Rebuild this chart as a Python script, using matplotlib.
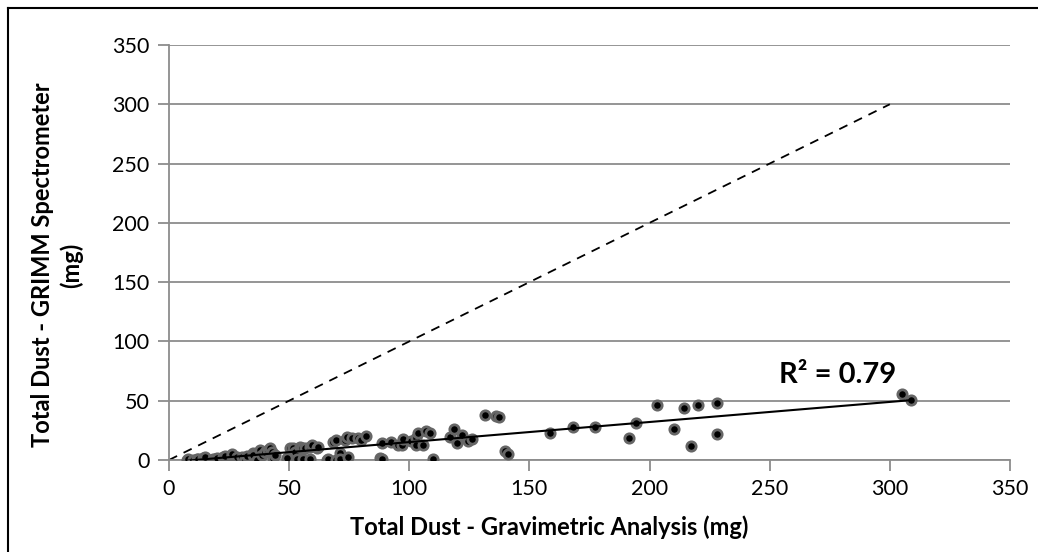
import matplotlib.pyplot as plt
import numpy as np

# Gravimetric (x) vs GRIMM spectrometer (y) total dust, mg
grav_mg = [7.4, 8, 10.1, 11.5, 12.2, 14, 15, 15, 18.4, 19.1, 20, 22.6, 23.3, 26.1, 26.1,
           28.2, 30.2, 31.6, 32.3, 35, 35.1, 36.5, 37.9, 38.6, 39.9, 41.3, 42, 42.7, 43.4, 44.1,
           49, 49, 50.4, 51.8, 52.4, 53.1, 54.5, 55.2, 55.9, 56.6, 58.7, 58.7, 59.4, 61.5, 62.1,
           65.6, 66.3, 68.4, 69.7, 69.7, 71.2, 71.2, 73.2, 74, 74.6, 76, 78.8, 80, 82.2, 87.8,
           88.8, 88.8, 92.2, 95.4, 96.8, 97.5, 100.7, 103, 103.7, 103, 105.9, 107, 108.6, 110,
           117, 118.7, 119.7, 122.1, 124.6, 126.3, 131.5, 136, 137.3, 139.8, 141.2,
           158.5, 168, 177.4, 191.4, 194.3, 203, 210.3, 214.3, 217.2, 220.3, 228.2, 228.2,
           305, 309]
grimm_mg = [0, 0.6, 0, 0.6, 0.6, 1.5, 1.4, 2.3, 0.6, 0.6, 1.5, 2.8, 3.4, 3.4, 5.1,
            2.8, 2.2, 0.6, 3.4, 5.6, 4.2, 0, 8.4, 4.2, 7, 8.4, 9.8, 7, 1.4, 4.2,
            0.6, 1.4, 9.8, 9.8, 7, 0.6, 11.2, 9.8, 0.6, 9.8, 11.2, 0.6, 12.6, 9.8, 11.2,
            0, 0.6, 15.4, 16.9, 0, 5.6, 0.6, 16.9, 19.7, 2.2, 18.3, 18.3, 17, 20.2, 1.4,
            14, 0.8, 15, 12.6, 12.6, 17.7, 16.3, 18.3, 22.5, 12.6, 12.6, 24.5, 22.5, 0.8,
            19.7, 25.9, 14, 21, 16, 17.4, 38, 37.3, 36, 7.6, 4.8,
            23, 28, 28, 18.3, 31.5, 46.4, 25.9, 44, 11.8, 46, 47.8, 21.6,
            55.5, 50.6]
one_to_one = [0, 300]
r2_label = "R² = 0.79"

plt.rcParams["font.family"] = ["Lato", "DejaVu Sans"]

fig = plt.figure(figsize=(10.38, 5.52), dpi=100)
ax = fig.add_axes([0.1628, 0.1667, 0.8102, 0.7518])

ax.scatter(grav_mg, grimm_mg, s=45, color="black", edgecolors="#666666",
           linewidths=2.0, zorder=3)

# linear trendline
slope, intercept = np.polyfit(grav_mg, grimm_mg, 1)
xs = np.array([min(grav_mg), max(grav_mg)])
ax.plot(xs, slope * xs + intercept, color="black", lw=1.5, zorder=4)

# 1:1 line
ax.plot(one_to_one, one_to_one, color="black", lw=1.3, ls=(0, (5, 4)), zorder=2)

ax.text(254, 65, r2_label, fontsize=21, fontweight="bold", ha="left", va="baseline")

ax.set_xlim(0, 350)
ax.set_ylim(0, 350)
ax.set_xticks(range(0, 351, 50))
ax.set_yticks(range(0, 351, 50))
ax.grid(axis="y", color="#8c8c8c", lw=1.3)
ax.set_axisbelow(True)
for s in ["top", "right"]:
    ax.spines[s].set_visible(False)
for s in ["left", "bottom"]:
    ax.spines[s].set_color("#8c8c8c")
    ax.spines[s].set_linewidth(1.3)
ax.tick_params(axis="both", colors="#8c8c8c", length=8, width=1.3,
               labelsize=15.5, labelcolor="black", pad=6)

fig.text(549 / 1038, 1 - 527 / 552, "Total Dust - Gravimetric Analysis (mg)",
         fontsize=17, fontweight="bold", ha="center", va="center")
fig.text(57 / 1038, 1 - 265 / 552, "Total Dust - GRIMM Spectrometer\n(mg)",
         fontsize=17, fontweight="bold", ha="center", va="center",
         rotation=90, multialignment="center", linespacing=1.3)

# outer chart border
fig.add_artist(plt.Line2D([8 / 1038, 8 / 1038], [0, 1 - 8 / 552],
                          transform=fig.transFigure, color="black", lw=1.5))
fig.add_artist(plt.Line2D([8 / 1038, 1], [1 - 8 / 552, 1 - 8 / 552],
                          transform=fig.transFigure, color="black", lw=1.5))

fig.savefig("out.png", dpi=100)
